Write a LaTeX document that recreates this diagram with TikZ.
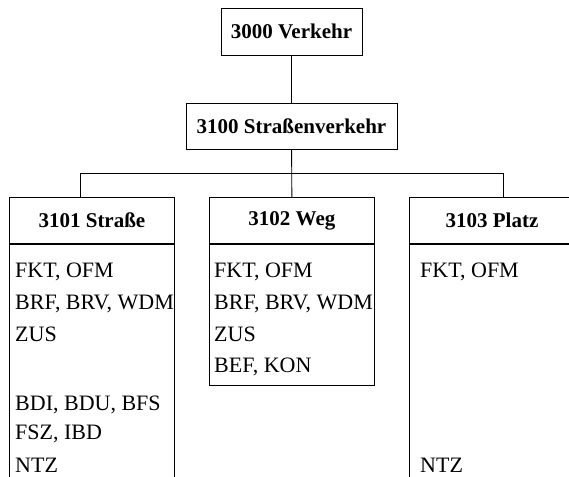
\documentclass[tikz,border=0pt]{standalone}
\usepackage{fontspec}
\setmainfont{Liberation Serif}
\usetikzlibrary{positioning}

\begin{document}
\begin{tikzpicture}[
    x=1pt, y=-1pt,
    font=\fontsize{22}{26}\selectfont,
    boxnode/.style={draw, line width=0.9pt, inner sep=0pt, font=\fontsize{21}{25}\selectfont\bfseries},
    headnode/.style={boxnode, minimum width=165pt, minimum height=46pt, anchor=north west},
    bodynode/.style={draw, line width=0.9pt, inner sep=0pt, minimum width=165pt, anchor=north},
    itemtext/.style={inner sep=0pt, anchor=base west},
    conn/.style={line width=0.9pt}
]
    \useasboundingbox (0,0) rectangle (569,476);

    % top levels
    \node[boxnode, minimum width=141pt, minimum height=47pt] (verkehr) at (291.5,31.5) {3000 Verkehr};
    \node[boxnode, minimum width=211pt, minimum height=46pt] (strassenverkehr) at (291.5,126) {3100 Straßenverkehr};

    % children
    \node[headnode] (strasse) at (9,197) {3101 Straße};
    \node[headnode] (weg) at (209,197) {3102 Weg};
    \node[headnode] (platz) at (409,197) {3103 Platz};
    \node[bodynode, minimum height=260pt] (strassebody) at (strasse.south) {};
    \node[bodynode, minimum height=141pt] (wegbody) at (weg.south) {};
    \node[bodynode, minimum height=260pt] (platzbody) at (platz.south) {};

    % items
    \node[itemtext] (sfkt) at (15,277) {FKT, OFM};
    \node[itemtext] (sbrf) at (15,309) {BRF, BRV, WDM};
    \node[itemtext] (szus) at (15,341) {ZUS};
    \node[itemtext] (sbdi) at (15,410) {BDI, BDU, BFS};
    \node[itemtext] (sfsz) at (15,439) {FSZ, IBD};
    \node[itemtext] (sntz) at (15,472) {NTZ};

    \node[itemtext] (wfkt) at (214,277) {FKT, OFM};
    \node[itemtext] (wbrf) at (214,309) {BRF, BRV, WDM};
    \node[itemtext] (wzus) at (214,341) {ZUS};
    \node[itemtext] (wbef) at (214,372) {BEF, KON};

    \node[itemtext] (pfkt) at (420,277) {FKT, OFM};
    \node[itemtext] (pntz) at (420,472) {NTZ};

    % connectors
    \coordinate (busl) at (80,173);
    \coordinate (busr) at (503,173);
    \draw[conn] (verkehr) -- (strassenverkehr);
    \draw[conn] (strassenverkehr) -- (weg);
    \draw[conn] (busl |- strasse.north) -- (busl) -- (busr) -- (busr |- platz.north);
\end{tikzpicture}
\end{document}
